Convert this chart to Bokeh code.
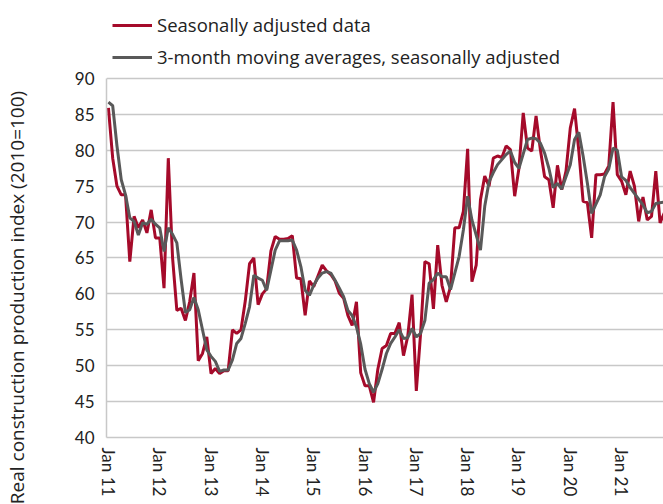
from bokeh.plotting import figure
from bokeh.models import FixedTicker, Legend, LegendItem, Range1d, LinearAxis
from bokeh.embed import file_html
from bokeh.resources import INLINE

# Monthly index values, Jan 2011 onward (month index 0 = Jan 11)
sa_data = [85.9, 78.9, 75.0, 73.8, 73.8, 64.5, 70.8, 69.2, 70.3, 68.5, 71.7, 67.8,
           67.8, 60.8, 78.9, 65.0, 57.7, 58.0, 56.3, 58.9, 62.9, 50.7, 51.7, 54.0,
           48.9, 49.6, 48.9, 49.3, 49.3, 55.0, 54.5, 55.0, 59.0, 64.2, 65.0, 58.5,
           60.0, 60.7, 66.0, 68.0, 67.6, 67.6, 67.7, 68.1, 62.2, 62.1, 57.0, 61.8,
           61.0, 62.5, 64.0, 63.2, 62.7, 61.8, 60.1, 59.4, 57.0, 55.6, 58.9, 49.0,
           47.2, 47.2, 44.9, 49.5, 52.4, 52.8, 54.5, 54.5, 56.0, 51.4, 54.1, 59.9,
           46.5, 54.5, 64.5, 64.2, 57.9, 66.8, 61.2, 58.9, 61.0, 69.2, 69.2, 71.5,
           80.2, 61.7, 64.0, 73.1, 76.4, 75.0, 78.9, 79.2, 79.0, 80.6, 80.1, 73.6,
           77.5, 85.2, 80.3, 79.9, 84.8, 80.1, 76.3, 75.9, 72.0, 77.9, 74.5, 77.1,
           83.1, 85.8, 79.9, 72.9, 72.7, 67.8, 76.6, 76.6, 76.7, 77.8, 86.7, 76.6,
           75.7, 73.8, 77.1, 75.0, 70.1, 73.5, 70.3, 70.8, 77.1, 69.9, 71.3]

ma3_data = [86.7, 86.2, 80.6, 75.9, 73.8, 70.6, 70.1, 68.2, 69.9, 69.7, 70.4, 69.7,
            69.2, 65.9, 69.2, 68.3, 67.1, 62.0, 57.4, 57.8, 59.5, 57.8, 55.0, 52.2,
            51.3, 50.6, 49.2, 49.4, 49.4, 50.8, 53.1, 53.8, 55.9, 58.2, 62.6, 62.2,
            61.9, 60.5, 63.3, 66.1, 67.4, 67.4, 67.4, 67.5, 66.1, 63.8, 60.5, 59.8,
            61.2, 62.2, 62.9, 63.1, 62.9, 61.9, 60.8, 59.6, 57.7, 57.0, 55.4, 53.0,
            49.5, 47.5, 46.3, 47.5, 49.5, 51.7, 53.1, 54.0, 55.0, 53.8, 53.9, 55.2,
            54.0, 54.5, 56.3, 61.5, 62.0, 62.9, 62.4, 62.4, 60.6, 62.9, 65.2, 68.9,
            73.6, 70.3, 68.2, 66.1, 72.2, 75.6, 76.9, 78.0, 78.7, 79.4, 79.9, 78.3,
            77.5, 79.5, 81.5, 81.7, 81.6, 81.0, 79.6, 77.5, 74.8, 75.4, 74.6, 76.3,
            78.0, 81.5, 82.5, 79.2, 75.4, 71.2, 72.5, 73.8, 76.3, 77.4, 80.3, 80.0,
            76.3, 75.8, 74.8, 74.0, 73.2, 72.4, 71.3, 71.5, 72.6, 72.7, 72.8]

month_index = list(range(len(sa_data)))

tick_positions = [0, 12, 24, 36, 48, 60, 72, 84, 96, 108, 120]
tick_labels = ["Jan 11", "Jan 12", "Jan 13", "Jan 14", "Jan 15", "Jan 16",
               "Jan 17", "Jan 18", "Jan 19", "Jan 20", "Jan 21"]
y_ticks = [40, 45, 50, 55, 60, 65, 70, 75, 80, 85, 90]

legend_labels = ["Seasonally adjusted data",
                 "3-month moving averages, seasonally adjusted"]
y_title = "Real construction production index (2010=100)"
y_title_at = 59.5   # value on the y scale where the axis title is centred

FONT = "Lato"
TXT = "#222222"
RED = "#A50A2A"
GRAY = "#595959"
GRID = "#C8C8C8"

# frame spans the full height above the x axis; the top part holds the legend
p = figure(width=663, height=504, output_backend="svg", toolbar_location=None,
           x_range=Range1d(-0.45, 129.8), y_range=Range1d(40, 100.86),
           min_border_left=106, min_border_right=0, min_border_top=0,
           min_border_bottom=67)
p.outline_line_color = None

r1 = p.line(month_index, sa_data, line_color=RED, line_width=3)
r2 = p.line(month_index, ma3_data, line_color=GRAY, line_width=3)

p.xgrid.grid_line_color = None
p.ygrid.grid_line_color = GRID
p.ygrid.grid_line_width = 1.5
p.ygrid.ticker = FixedTicker(ticks=y_ticks)

p.yaxis.ticker = FixedTicker(ticks=y_ticks)
p.yaxis.bounds = (40, 90)
p.yaxis.axis_line_color = GRID
p.yaxis.axis_line_width = 1.5
p.yaxis.major_tick_line_color = None
p.yaxis.minor_tick_line_color = None
p.yaxis.major_tick_out = 0
p.yaxis.major_tick_in = 0
p.yaxis.major_label_standoff = 12
p.yaxis.major_label_text_font = FONT
p.yaxis.major_label_text_font_size = "17px"
p.yaxis.major_label_text_color = TXT

# outer axis whose single rotated label is the axis title
title_axis = LinearAxis(ticker=FixedTicker(ticks=[y_title_at]),
                        major_label_overrides={y_title_at: y_title},
                        major_label_orientation="vertical",
                        axis_line_color=None, major_tick_line_color=None,
                        minor_tick_line_color=None, major_tick_out=0,
                        major_tick_in=0, minor_tick_out=0,
                        major_label_standoff=41,
                        major_label_text_font="Open Sans",
                        major_label_text_font_size="19px",
                        major_label_text_color=TXT)
p.add_layout(title_axis, "left")

p.xaxis.ticker = FixedTicker(ticks=tick_positions)
p.xaxis.major_label_overrides = {t: l for t, l in zip(tick_positions, tick_labels)}
p.xaxis.major_label_orientation = "vertical"
p.xaxis.axis_line_color = GRID
p.xaxis.axis_line_width = 1.5
p.xaxis.major_tick_line_color = None
p.xaxis.minor_tick_line_color = None
p.xaxis.major_tick_out = 0
p.xaxis.major_tick_in = 0
p.xaxis.major_label_standoff = 10
p.xaxis.major_label_text_font = FONT
p.xaxis.major_label_text_font_size = "17px"
p.xaxis.major_label_text_color = TXT

legend = Legend(items=[LegendItem(label=legend_labels[0], renderers=[r1]),
                       LegendItem(label=legend_labels[1], renderers=[r2])],
                location=(6, 368), orientation="vertical",
                padding=0, margin=0, spacing=7,
                glyph_width=40, glyph_height=20, label_height=20,
                label_standoff=5,
                label_text_font="Open Sans", label_text_font_size="18.5px",
                label_text_color=TXT,
                border_line_alpha=0, background_fill_alpha=0)
p.add_layout(legend, "center")

open("out.html", "w").write(file_html(p, INLINE))
